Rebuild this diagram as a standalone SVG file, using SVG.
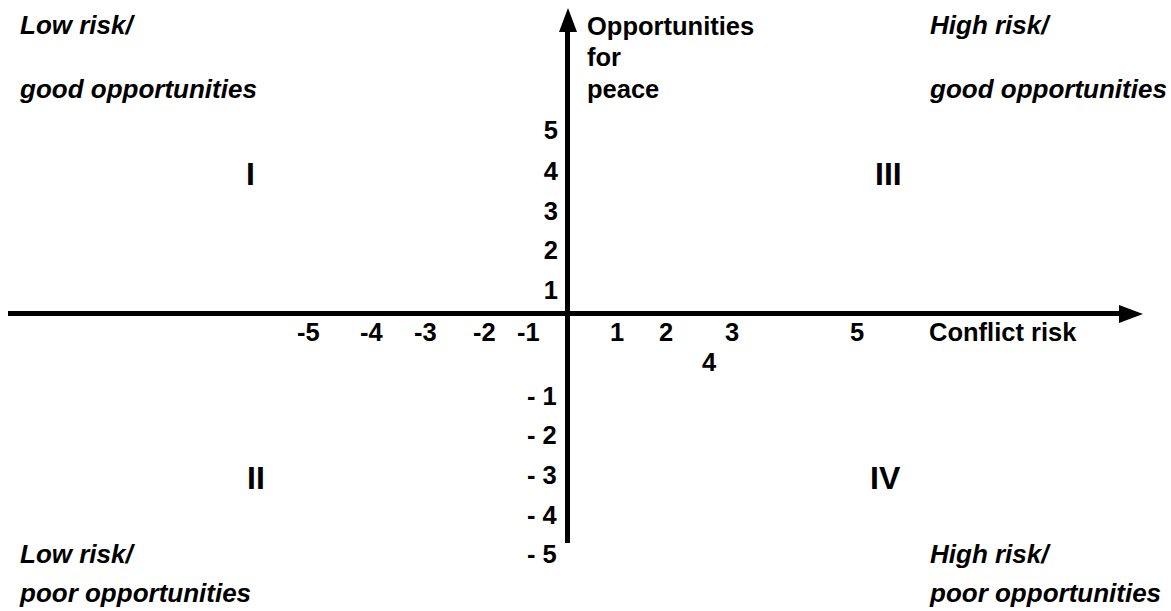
<svg xmlns="http://www.w3.org/2000/svg" width="1171" height="611" viewBox="0 0 1171 611">
<style>
text{font-family:"Liberation Sans",Arial,sans-serif;font-weight:bold;fill:#000}
.q{font-size:26px;font-style:italic}
.l{font-size:25.5px}
.r{font-size:32px}
.e{text-anchor:end}
.ax{stroke:#000;stroke-width:5;fill:none}
</style>
<rect width="1171" height="611" fill="#fff"/>
<g id="connectors">
<line class="ax" x1="8" y1="313.5" x2="1121" y2="313.5"/>
<polygon points="1119,305 1143,314 1119,323" fill="#000"/>
<line class="ax" x1="567.5" y1="543" x2="567.5" y2="30"/>
<polygon points="559,32 568,8 577,32" fill="#000"/>
</g>
<g id="quadrant-I">
<text class="q" x="20" y="34">Low risk/</text>
<text class="q" x="20" y="98">good opportunities</text>
<text class="r" x="246" y="185">I</text>
</g>
<g id="quadrant-III">
<text class="q" x="930" y="34">High risk/</text>
<text class="q" x="930" y="98">good opportunities</text>
<text class="r" x="875" y="185">III</text>
</g>
<g id="quadrant-II">
<text class="q" x="20" y="563">Low risk/</text>
<text class="q" x="20" y="602">poor opportunities</text>
<text class="r" x="247" y="489">II</text>
</g>
<g id="quadrant-IV">
<text class="q" x="930" y="563">High risk/</text>
<text class="q" x="930" y="602">poor opportunities</text>
<text class="r" x="870" y="489">IV</text>
</g>
<g id="y-axis-label">
<text class="l" x="587" y="35">Opportunities</text>
<text class="l" x="587" y="66">for</text>
<text class="l" x="587" y="98">peace</text>
</g>
<g id="x-axis-label">
<text class="l" x="929" y="341">Conflict risk</text>
</g>
<g id="y-ticks">
<text class="l e" x="558" y="139">5</text>
<text class="l e" x="558" y="180">4</text>
<text class="l e" x="558" y="220">3</text>
<text class="l e" x="558" y="259">2</text>
<text class="l e" x="558" y="299">1</text>
<text class="l" x="527" y="405">- 1</text>
<text class="l" x="527" y="444">- 2</text>
<text class="l" x="527" y="484">- 3</text>
<text class="l" x="527" y="524">- 4</text>
<text class="l" x="527" y="563">- 5</text>
</g>
<g id="x-ticks">
<text class="l" x="297" y="341">-5</text>
<text class="l" x="360" y="341">-4</text>
<text class="l" x="414" y="341">-3</text>
<text class="l" x="473" y="341">-2</text>
<text class="l" x="517" y="341">-1</text>
<text class="l" x="610" y="341">1</text>
<text class="l" x="659" y="341">2</text>
<text class="l" x="725" y="341">3</text>
<text class="l" x="702" y="371">4</text>
<text class="l" x="850" y="341">5</text>
</g>
</svg>
